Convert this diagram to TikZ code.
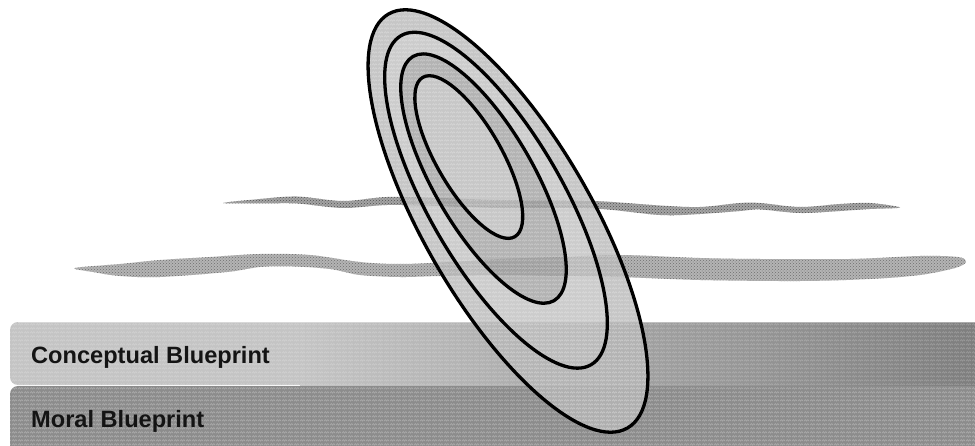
\documentclass[tikz,border=0pt]{standalone}
\usepackage{fontspec}
\setmainfont{Liberation Sans}
\usetikzlibrary{patterns}

\definecolor{conceptL}{HTML}{C4C4C4}
\definecolor{conceptR}{HTML}{7E7E7E}
\definecolor{moralbar}{HTML}{8C8C8C}
\definecolor{bandA}{HTML}{A4A4A4}
\definecolor{bandAgrain}{HTML}{505050}
\definecolor{bandB}{HTML}{B4B4B4}
\definecolor{bandBgrain}{HTML}{6E6E6E}
\definecolor{ringA}{HTML}{B8B8B8}
\definecolor{ringB}{HTML}{C0C0C0}
\definecolor{ringC}{HTML}{A0A0A0}
\definecolor{ringD}{HTML}{BABABA}
\definecolor{labeltext}{HTML}{141414}

% small zigzag weave used as a surface texture
\pgfdeclarepatternformonly{weave}{\pgfpointorigin}{\pgfqpoint{6pt}{4pt}}{\pgfqpoint{6pt}{4pt}}{%
  \pgfsetlinewidth{0.7pt}%
  \pgfpathmoveto{\pgfqpoint{0pt}{1pt}}%
  \pgfpathlineto{\pgfqpoint{1.5pt}{3pt}}%
  \pgfpathlineto{\pgfqpoint{3pt}{1pt}}%
  \pgfpathlineto{\pgfqpoint{4.5pt}{3pt}}%
  \pgfpathlineto{\pgfqpoint{6pt}{1pt}}%
  \pgfusepath{stroke}}

\begin{document}
\begin{tikzpicture}[x=1pt,y=1pt,
  ringfill/.style={even odd rule, fill opacity=0.8},
  texture/.style={pattern=weave, pattern color=white, fill opacity=0.28},
  rim/.style={draw=black, line width=3.3pt},
  barlabel/.style={anchor=base west, inner sep=0pt, text=labeltext,
    font=\fontsize{23.6}{24}\selectfont\bfseries}]
\useasboundingbox (0,0) rectangle (975,445);
\clip (0,0) rectangle (975,445);
\fill[white] (0,0) rectangle (975,445);

% lower bar
\fill[moralbar, rounded corners=8pt] (10,-30) rectangle (1000,59);
\fill[texture, rounded corners=8pt] (10,-30) rectangle (1000,59);
% upper bar: flat on the left, darkening towards the right
\fill[conceptL, rounded corners=8pt] (10,60) rectangle (320,123);
\shade[left color=conceptL, right color=conceptR] (300,60) rectangle (975,123);
\fill[texture, fill opacity=0.22, rounded corners=8pt] (10,60) rectangle (1000,123);
\draw[white, opacity=0.35, line width=1pt] (18,122.5) -- (975,122.5);

\node[barlabel] (concept) at (31,82) {Conceptual Blueprint};
\node[barlabel] (moral) at (31,18) {Moral Blueprint};

% thin wavy band
\path[fill=bandA, postaction={pattern=crosshatch dots, pattern color=bandAgrain}]
  plot[smooth cycle, tension=0.55] coordinates {
  (223,242) (260,246) (297,248.5) (343,244) (387,248) (440,247) (500,245)
  (593,244) (660,239.5) (700,238) (740,242) (760,242) (800,238) (840,241)
  (870,242) (900,237.5)
  (870,236) (840,234) (800,232) (760,235.5) (740,234) (700,231) (660,230)
  (593,236.5) (500,237) (440,239) (387,240) (343,237) (297,241.5) (260,241.5)};
% broad wavy band
\path[fill=bandB, postaction={pattern=crosshatch dots, pattern color=bandBgrain}]
  plot[smooth cycle, tension=0.55] coordinates {
  (75,177) (120,181) (160,185) (210,188) (260,191) (310,190) (360,183)
  (400,181) (450,183) (500,186) (560,188) (620,190) (700,187) (760,186)
  (850,186) (920,189) (958,188) (966,183)
  (955,177) (920,170) (870,166) (800,164) (700,165) (620,168) (560,169)
  (500,170) (440,169) (400,168) (360,170) (330,176) (293,178.5) (260,178)
  (227,173) (160,168) (120,169) (93,173)};

% tilted nested ellipses
\begin{scope}[shift={(508,224)}, rotate=120]
  \coordinate (e1) at (0,0);
  \coordinate (e2) at (24,0);
  \coordinate (e3) at (49,0);
  \coordinate (e4) at (75,2);
  \fill[ringA, ringfill] (e1) ellipse[x radius=239pt, y radius=84pt]
                         (e2) ellipse[x radius=190pt, y radius=67pt];
  \fill[ringB, ringfill] (e2) ellipse[x radius=190pt, y radius=67pt]
                         (e3) ellipse[x radius=141pt, y radius=50pt];
  \fill[ringC, ringfill] (e3) ellipse[x radius=141pt, y radius=50pt]
                         (e4) ellipse[x radius=92pt, y radius=32.5pt];
  \fill[ringD, fill opacity=0.8] (e4) ellipse[x radius=92pt, y radius=32.5pt];
  \fill[texture] (e1) ellipse[x radius=239pt, y radius=84pt];
  \draw[rim] (e1) ellipse[x radius=239pt, y radius=84pt];
  \draw[rim] (e2) ellipse[x radius=190pt, y radius=67pt];
  \draw[rim] (e3) ellipse[x radius=141pt, y radius=50pt];
  \draw[rim] (e4) ellipse[x radius=92pt, y radius=32.5pt];
\end{scope}
\end{tikzpicture}
\end{document}
